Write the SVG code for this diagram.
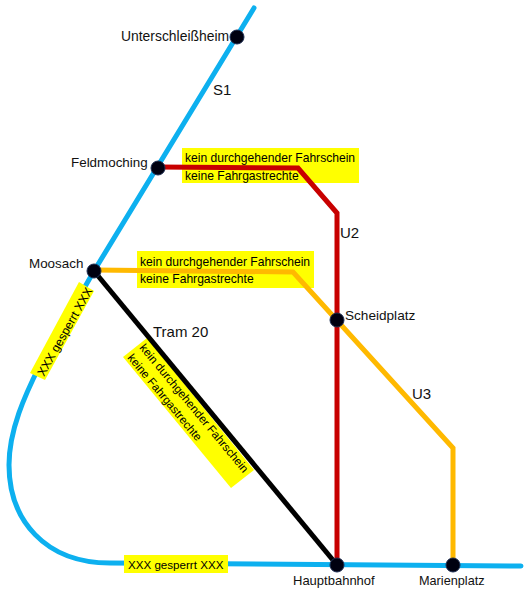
<svg xmlns="http://www.w3.org/2000/svg" width="530" height="595" viewBox="0 0 530 595">
<style>
text{font-family:"Liberation Sans",Arial,sans-serif;fill:#111}
.ln{font-size:15px}
.nt{font-size:12.1px;fill:#000}
.nr{font-size:11.6px;fill:#000}
.bar{fill:#ff0}
.line{fill:none;stroke-width:5;stroke-linejoin:miter}
.stn{fill:#000010;stroke:#1c2c50;stroke-width:1}
</style>
<rect width="530" height="595" fill="#fff"/>
<g id="connectors">
<path id="s1" class="line" d="M254 8L94 271L40 365C25 395 9 430 9 465C9 520 45 563 110 563L521 566" style="stroke:#0db0ef;stroke-linecap:round"/>
<polygon id="note-s1" class="bar" points="79,282 94,291 45,380 30,373"/>
<polygon id="note-s1b" class="bar" points="124,555 228,555 228,573 124,573"/>
<rect id="note-u2" class="bar" x="182" y="148" width="177" height="35"/>
<rect id="note-u3" class="bar" x="137" y="251" width="177" height="37"/>
<polygon id="note-tram" class="bar" points="147,338 123,357 231,488 254,470"/>
<path id="u3" class="line" d="M94 270L293 272L453 448V565" style="stroke:#ffb900"/>
<path id="u2" class="line" d="M158 167L298 168L337 213V565" style="stroke:#c80000"/>
<path id="tram" class="line" d="M94 271L337 565" style="stroke:#000"/>
</g>
<g id="labels">
<text class="ln" x="213" y="95">S1</text>
<text class="ln" x="340" y="238">U2</text>
<text class="ln" x="412" y="399">U3</text>
<text class="ln" x="153" y="337">Tram 20</text>
<text class="nt" x="185" y="162">kein durchgehender Fahrschein</text>
<text class="nt" x="185" y="180">keine Fahrgastrechte</text>
<text class="nt" x="140" y="266">kein durchgehender Fahrschein</text>
<text class="nt" x="140" y="283">keine Fahrgastrechte</text>
<text class="nr" transform="translate(139 348) rotate(50.3)">kein durchgehender Fahrschein</text>
<text class="nr" transform="translate(127 358) rotate(50.3)">keine Fahrgastrechte</text>
<text class="nt" transform="translate(44 377) rotate(-60.5)">XXX gesperrt XXX</text>
<text class="nr" x="128" y="569">XXX gesperrt XXX</text>
</g>
<g id="n-unterschleissheim"><circle class="stn" cx="237" cy="37" r="7"/><text font-size="13.9" x="121" y="41">Unterschleißheim</text></g>
<g id="n-feldmoching"><circle class="stn" cx="158" cy="168" r="7"/><text font-size="13.4" x="71" y="167">Feldmoching</text></g>
<g id="n-moosach"><circle class="stn" cx="94" cy="271" r="7"/><text font-size="13.4" x="29" y="268">Moosach</text></g>
<g id="n-scheidplatz"><circle class="stn" cx="337" cy="320" r="7"/><text font-size="13.6" x="345" y="320">Scheidplatz</text></g>
<g id="n-hauptbahnhof"><circle class="stn" cx="337" cy="565" r="7"/><text font-size="13" x="293" y="585">Hauptbahnhof</text></g>
<g id="n-marienplatz"><circle class="stn" cx="453" cy="565" r="7"/><text font-size="12.7" x="419" y="585">Marienplatz</text></g>
</svg>
